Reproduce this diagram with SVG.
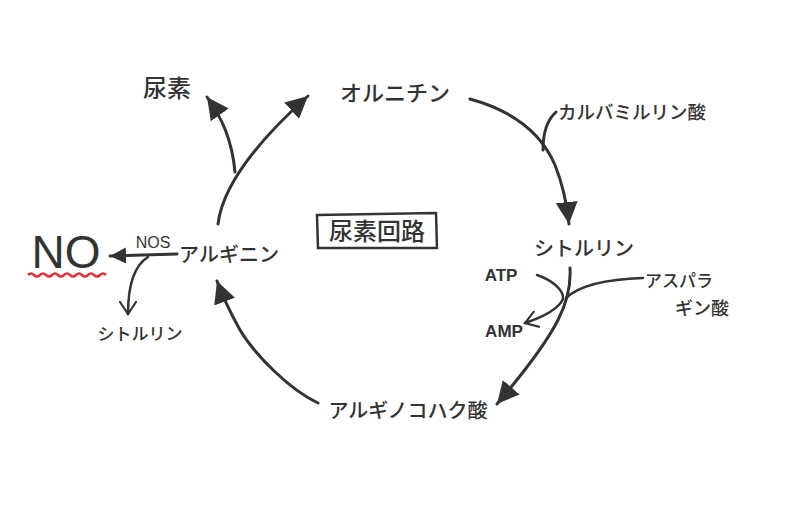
<svg xmlns="http://www.w3.org/2000/svg" width="798" height="522" viewBox="0 0 798 522">
<defs>
<style>
.t{font-family:"Noto Sans CJK JP","Noto Sans",sans-serif;fill:#333;font-weight:500}
.l{font-family:"Liberation Sans",Arial,sans-serif;fill:#333}
.c{fill:none;stroke:#333;stroke-width:3;stroke-linecap:round}
.b{fill:none;stroke:#333;stroke-width:2.5;stroke-linecap:round}
</style>
<marker id="ah" markerWidth="24" markerHeight="24" refX="22" refY="12" orient="auto" markerUnits="userSpaceOnUse">
<path d="M0,1 L22,12 L0,23 Z" fill="#333"/>
</marker>
<marker id="ahs" markerWidth="18" markerHeight="18" refX="16" refY="9" orient="auto" markerUnits="userSpaceOnUse">
<path d="M0,1 L16,9 L0,17 Z" fill="#333"/>
</marker>
<marker id="op" markerWidth="16" markerHeight="18" refX="13" refY="9" orient="auto" markerUnits="userSpaceOnUse">
<path d="M1,1 L13,9 L1,17" fill="none" stroke="#333" stroke-width="2.2" stroke-linecap="round"/>
</marker>
</defs>
<rect width="798" height="522" fill="#fff"/>

<g id="connectors">
<path class="c" d="M218,224 C222,190 250,148 308,96" marker-end="url(#ah)"/>
<path class="c" d="M235,172 C232,140 222,118 207,97" marker-end="url(#ah)"/>
<path class="c" d="M470,99 C510,110 540,130 555,165 C563,185 567,205 569,224" marker-end="url(#ah)"/>
<path class="c" d="M556,112 C547,120 543,135 543,150"/>
<path class="c" d="M570,268 C572,300 560,330 497,404" marker-end="url(#ah)"/>
<path class="b" d="M537,275 C552,280 564,290 563,299 C558,310 543,317 525,323" marker-end="url(#op)"/>
<path class="b" d="M643,278 C610,279 580,285 566,298"/>
<path class="c" d="M318,403 C290,390 255,355 240,330 C230,312 224,300 217,281" marker-end="url(#ah)"/>
<path class="c" d="M177,254 L110,256" marker-end="url(#ahs)"/>
<path class="b" d="M148,257 C135,265 128,285 128,314" marker-end="url(#op)"/>
<path d="M28,275 q3,-3 6,0 t6,0 t6,0 t6,0 t6,0 t6,0 t6,0 t6,0 t6,0 t6,0 t6,0 t6,0 t6,0" fill="none" stroke="#e0303c" stroke-width="2.5"/>
</g>

<g id="urea"><text class="t" x="167" y="97" font-size="24" text-anchor="middle" font-weight="700">尿素</text></g>
<g id="ornithine"><text class="t" x="395" y="101" font-size="22" text-anchor="middle">オルニチン</text></g>
<g id="carbamoyl"><text class="t" x="632" y="119" font-size="18.5" text-anchor="middle">カルバミルリン酸</text></g>
<g id="citrulline"><text class="t" x="584" y="256" font-size="20" text-anchor="middle">シトルリン</text></g>
<g id="atp"><text class="l" x="501" y="281" font-size="17" text-anchor="middle" font-weight="700">ATP</text></g>
<g id="amp"><text class="l" x="504" y="337" font-size="17" text-anchor="middle" font-weight="700">AMP</text></g>
<g id="aspartate">
<text class="t" x="679" y="287" font-size="17" text-anchor="middle">アスパラ</text>
<text class="t" x="702" y="315" font-size="18" text-anchor="middle">ギン酸</text>
</g>
<g id="argininosuccinate"><text class="t" x="408" y="418" font-size="20" text-anchor="middle">アルギノコハク酸</text></g>
<g id="arginine"><text class="t" x="229" y="262" font-size="20" text-anchor="middle">アルギニン</text></g>
<g id="nos"><text class="l" x="153" y="248" font-size="16" text-anchor="middle">NOS</text></g>
<g id="no"><text class="l" x="66" y="268" font-size="46" text-anchor="middle">NO</text></g>
<g id="citrulline2"><text class="t" x="140" y="340" font-size="17" text-anchor="middle">シトルリン</text></g>
<g id="title">
<path d="M317,215 L436,213 L437,248 L318,248 Z" fill="none" stroke="#333" stroke-width="2.5"/>
<text class="t" x="377" y="240" font-size="24" text-anchor="middle" font-weight="700">尿素回路</text>
</g>
</svg>
